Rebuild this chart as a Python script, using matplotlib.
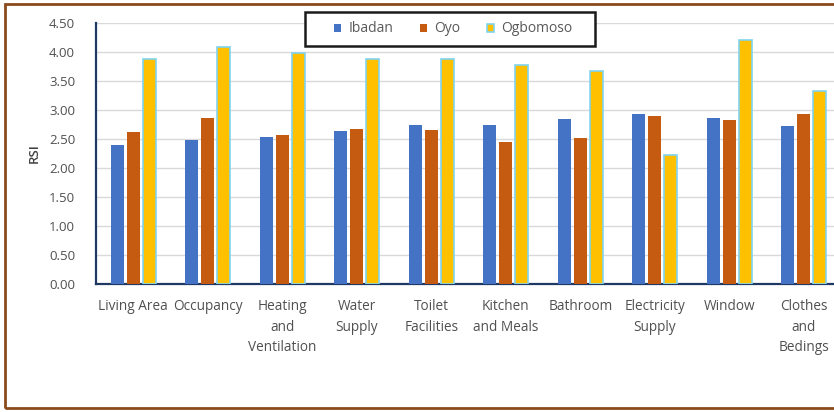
import matplotlib
matplotlib.use("Agg")
import matplotlib.pyplot as plt
import numpy as np
from matplotlib.patches import Rectangle

categories = ["Living Area", "Occupancy", "Heating\nand\nVentilation", "Water\nSupply",
              "Toilet\nFacilities", "Kitchen\nand Meals", "Bathroom", "Electricity\nSupply",
              "Window", "Clothes\nand\nBedings"]
ibadan = [2.40, 2.49, 2.54, 2.64, 2.74, 2.74, 2.84, 2.93, 2.87, 2.72]
oyo = [2.62, 2.87, 2.57, 2.68, 2.65, 2.44, 2.52, 2.89, 2.82, 2.93]
ogbomoso = [3.88, 4.09, 3.99, 3.88, 3.88, 3.77, 3.67, 2.22, 4.21, 3.33]
series_names = ["Ibadan", "Oyo", "Ogbomoso"]
yticks = [0.0, 0.5, 1.0, 1.5, 2.0, 2.5, 3.0, 3.5, 4.0, 4.5]

plt.rcParams['font.family'] = ['Open Sans', 'DejaVu Sans']

W, H = 834, 412
fig = plt.figure(figsize=(W / 100, H / 100), dpi=100)
ax = fig.add_axes([96 / W, 128 / H, 745 / W, 261 / H])

x = np.arange(len(categories))
bw = 0.175
off = 0.215
h1 = ax.bar(x - off, ibadan, bw, color='#4472C4', label=series_names[0], zorder=3)
h2 = ax.bar(x, oyo, bw, color='#C55A11', label=series_names[1], zorder=3)
h3 = ax.bar(x + off, ogbomoso, bw, color='#FFC000', edgecolor='#7FD3EE', linewidth=1.2,
            label=series_names[2], zorder=3)

ax.set_xlim(-0.5, len(categories) - 0.5)
ax.set_ylim(0, 4.5)
ax.set_yticks(yticks)
ax.set_yticklabels([f"{v:.2f}" for v in yticks], fontsize=9.5, color='#505050')
ax.set_xticks(x)
ax.set_xticklabels(categories, fontsize=9.8, color='#505050', linespacing=1.5, va='top')
ax.tick_params(axis='both', length=0)
ax.tick_params(axis='y', pad=15)
ax.tick_params(axis='x', pad=11)
ax.grid(axis='y', color='#D9D9D9', linewidth=1.0, zorder=0)
for s in ['top', 'right']:
    ax.spines[s].set_visible(False)
for s in ['left', 'bottom']:
    ax.spines[s].set_color('#1F3864')
    ax.spines[s].set_linewidth(1.6)
ax.set_ylabel("RSI", fontsize=9.5, color='#404040', fontweight='semibold', labelpad=6)

fig.patches.append(Rectangle((305 / W, 1 - 46 / H), 290 / W, 34 / H, transform=fig.transFigure,
                             fill=True, facecolor='white', edgecolor='#1a1a1a', linewidth=1.8,
                             zorder=5))

leg = fig.legend(handles=[h1, h2, h3], labels=series_names, loc='center',
                 bbox_to_anchor=(453 / W, 1 - 29 / H),
                 ncol=3, frameon=False, fontsize=10, handlelength=0.5, handleheight=0.5,
                 columnspacing=1.9, handletextpad=0.55, borderpad=0.0)
leg.set_zorder(10)
for t in leg.get_texts():
    t.set_color('#595959')

fig.patches.append(Rectangle((5 / W, 4 / H), 1.0, 404 / H, transform=fig.transFigure,
                             fill=False, edgecolor='#8B4A1C', linewidth=2.0))

fig.savefig("out.png", dpi=100)
